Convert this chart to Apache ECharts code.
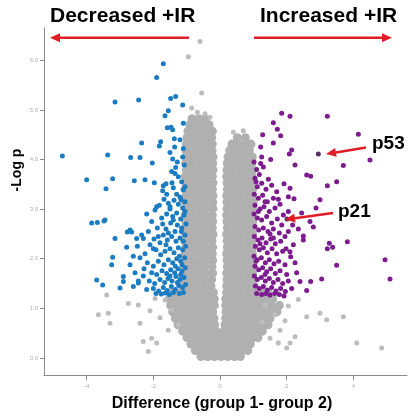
<!DOCTYPE html>
<html><head><meta charset="utf-8">
<script src="https://cdn.jsdelivr.net/npm/echarts@6/dist/echarts.min.js"></script>
<style>html,body{margin:0;padding:0;background:#fff}#c{width:408px;height:420px}</style>
</head><body><div id="c"></div>
<script>
const xTicks = [-4, -2, 0, 2, 4];
const yTicks = [0, 1, 2, 3, 4, 5, 6];
// gray (non-significant) core: each row = [y, x1, x2, ...]
const grayRows = [
[4.82,-0.84,-0.63,-0.44],
[4.70,-0.90,-0.71,-0.52,-0.33],
[4.57,-0.96,-0.77,-0.57,-0.37,-0.23],
[4.44,-0.99,-0.81,-0.61,-0.42,-0.25,0.52,0.76],
[4.31,-1.01,-0.79,-0.60,-0.41,-0.23,0.36,0.57,0.79,0.93],
[4.18,-1.02,-0.83,-0.63,-0.43,-0.24,0.29,0.48,0.69,0.88],
[4.05,-1.00,-0.81,-0.61,-0.40,-0.21,0.24,0.43,0.63,0.83,0.97],
[3.92,-1.03,-0.84,-0.62,-0.43,-0.22,0.22,0.40,0.61,0.80,0.95],
[3.79,-1.01,-0.80,-0.59,-0.40,-0.21,0.21,0.42,0.62,0.83,0.98],
[3.66,-1.04,-0.83,-0.64,-0.45,-0.23,0.20,0.39,0.60,0.79,0.96],
[3.53,-1.02,-0.82,-0.61,-0.42,-0.21,0.21,0.41,0.62,0.81,0.97],
[3.40,-1.05,-0.86,-0.65,-0.44,-0.23,0.22,0.43,0.61,0.82,0.98],
[3.27,-1.02,-0.81,-0.62,-0.41,-0.21,0.20,0.40,0.59,0.80,0.96],
[3.14,-1.04,-0.84,-0.63,-0.44,-0.22,0.21,0.41,0.62,0.81,0.99],
[3.01,-1.02,-0.82,-0.61,-0.42,-0.21,0.21,0.42,0.63,0.82,0.97],
[2.88,-1.05,-0.85,-0.64,-0.45,-0.23,0.20,0.40,0.60,0.80,0.96],
[2.75,-1.03,-0.83,-0.63,-0.42,-0.22,0.21,0.41,0.61,0.81,0.98],
[2.62,-1.05,-0.84,-0.65,-0.44,-0.23,0.22,0.42,0.62,0.82,0.97],
[2.49,-1.02,-0.82,-0.62,-0.41,-0.21,0.20,0.40,0.61,0.80,0.98],
[2.36,-1.06,-0.86,-0.66,-0.45,-0.24,0.21,0.41,0.60,0.81,0.96],
[2.23,-1.03,-0.83,-0.63,-0.43,-0.22,0.22,0.42,0.62,0.82,0.98],
[2.10,-1.05,-0.85,-0.64,-0.44,-0.23,0.20,0.40,0.60,0.80,0.97],
[1.97,-1.04,-0.84,-0.64,-0.43,-0.22,0.21,0.41,0.61,0.81,0.99],
[1.84,-1.06,-0.86,-0.66,-0.46,-0.24,0.22,0.42,0.62,0.82,1.00],
[1.71,-1.05,-0.85,-0.65,-0.44,-0.22,0.20,0.40,0.60,0.80,0.98],
[1.58,-1.08,-0.88,-0.67,-0.47,-0.25,0.21,0.41,0.61,0.81,1.00],
[1.45,-1.12,-0.91,-0.70,-0.49,-0.27,0.20,0.40,0.61,0.82,1.03],
[1.32,-1.38,-1.18,-0.98,-0.78,-0.58,-0.39,-0.20,0.20,0.41,0.61,0.82,1.02,1.23,1.44],
[1.19,-1.52,-1.31,-1.10,-0.90,-0.70,-0.50,-0.31,-0.17,0.17,0.36,0.56,0.76,0.96,1.16,1.36,1.58],
[1.06,-1.48,-1.27,-1.08,-0.88,-0.68,-0.48,-0.29,-0.17,0.17,0.31,0.51,0.71,0.91,1.11,1.31,1.54,1.78],
[0.93,-1.42,-1.21,-1.01,-0.81,-0.61,-0.41,-0.22,0.18,0.29,0.49,0.69,0.89,1.09,1.29,1.50,1.71],
[0.80,-1.34,-1.14,-0.94,-0.74,-0.54,-0.34,-0.18,0.17,0.31,0.51,0.71,0.91,1.11,1.31,1.50],
[0.67,-1.26,-1.06,-0.86,-0.66,-0.46,-0.26,-0.16,0.15,0.29,0.49,0.69,0.89,1.09,1.28,1.44],
[0.54,-1.12,-0.92,-0.72,-0.52,-0.32,-0.13,0.11,0.30,0.50,0.70,0.90,1.10,1.27],
[0.41,-0.99,-0.79,-0.59,-0.39,-0.19,0.00,0.19,0.39,0.59,0.79,0.99,1.14],
[0.28,-0.87,-0.67,-0.47,-0.27,-0.07,0.12,0.32,0.52,0.72,0.91],
[0.15,-0.74,-0.54,-0.34,-0.14,0.06,0.26,0.46,0.66,0.83],
[0.03,-0.57,-0.37,-0.17,0.03,0.23,0.43,0.61]
];
// scattered gray points
const grayScatter = [
[-0.60,6.38],[-0.95,6.07],[-0.55,5.34],[-0.85,5.04],[-0.68,4.95],[-0.45,4.92],[-0.30,4.85],[0.40,4.55],[0.70,4.58],
[-3.40,1.27],[-3.35,0.90],[-3.65,0.87],[-3.30,0.70],[-2.45,1.07],[-2.40,0.70],[-2.30,0.33],[-2.15,0.13],[-1.90,0.30],[-2.05,0.40],
[-1.65,1.17],[-1.45,0.97],[-1.80,0.81],[-1.25,0.67],[-1.55,0.56],[-2.10,0.95],[-1.95,1.20],[-2.75,1.10],
[2.60,0.83],[3.00,0.90],[3.20,0.77],[3.70,0.83],[4.10,0.30],[2.25,0.43],[2.10,0.30],[2.00,0.20],[1.75,0.30],[4.85,0.20],
[1.35,1.07],[1.65,0.87],[1.26,0.73],[1.80,0.56],[1.50,0.40],[2.05,1.05],[2.35,1.18],[1.95,0.75]
];
// significantly decreased (blue)
const decreased = [
[-1.70,5.93],[-1.90,5.65],[-3.15,5.16],[-2.44,5.20],[-1.48,5.23],[-1.33,5.27],[-1.12,5.10],[-1.55,4.98],[-1.65,4.88],
[-1.58,4.64],[-1.47,4.65],[-1.42,4.60],[-1.10,4.73],[-1.37,4.42],[-1.78,4.36],[-1.82,4.27],[-2.35,4.33],[-1.36,4.25],
[-1.50,4.14],[-1.10,4.22],[-3.37,4.09],[-2.68,4.04],[-2.40,4.04],[-2.03,3.93],[-1.42,4.01],[-1.33,3.84],[-1.07,3.89],
[-4.73,4.07],[-4.00,3.59],[-3.22,3.61],[-3.42,3.41],[-2.57,3.57],[-2.25,3.59],[-1.97,3.53],[-1.70,3.47],[-1.62,3.51],
[-1.72,3.37],[-1.44,3.53],[-1.40,3.43],[-1.20,3.24],[-1.17,3.19],[-1.10,3.39],[-1.45,3.76],[-1.35,3.72],[-1.90,3.05],
[-1.50,3.05],[-2.20,2.90],[-3.45,2.78],[-3.85,2.72],[-3.68,2.73],[-3.48,2.76],[-2.70,2.58],[-2.78,2.54],[-2.65,2.54],
[-3.15,2.41],[-2.50,2.41],[-2.30,2.41],[-2.80,2.23],[-3.22,2.03],[-3.25,1.88],[-2.70,1.88],[-3.70,1.57],[-3.52,1.47],
[-2.90,1.64],[-2.90,1.54],[-3.00,1.41],[-2.60,1.44],[-2.45,1.51],
[-1.05,3.15],[-1.12,3.02],[-1.25,3.10],[-1.38,3.18],[-1.55,3.12],[-1.68,3.20],[-1.82,3.08],[-1.95,2.98],[-1.08,2.88],
[-1.18,2.80],[-1.30,2.92],[-1.42,2.85],[-1.60,2.90],[-1.75,2.82],[-2.05,2.75],[-1.02,2.70],[-1.15,2.62],[-1.28,2.68],
[-1.35,2.55],[-1.48,2.72],[-1.62,2.60],[-1.88,2.62],[-2.15,2.55],[-2.35,2.48],[-1.05,2.48],[-1.20,2.42],[-1.32,2.35],
[-1.45,2.45],[-1.58,2.38],[-1.70,2.48],[-1.80,2.32],[-1.98,2.40],[-2.10,2.28],[-1.03,2.25],[-1.12,2.18],[-1.25,2.22],
[-1.38,2.12],[-1.50,2.20],[-1.65,2.15],[-1.78,2.08],[-1.92,2.18],[-2.25,2.10],[-2.40,2.02],[-1.06,2.02],[-1.18,1.95],
[-1.30,2.00],[-1.42,1.92],[-1.55,1.98],[-1.68,1.88],[-1.85,1.95],[-2.00,1.85],[-2.18,1.92],[-1.04,1.82],[-1.14,1.75],
[-1.26,1.80],[-1.36,1.72],[-1.48,1.78],[-1.60,1.70],[-1.74,1.76],[-1.90,1.68],[-2.05,1.72],[-2.30,1.65],[-1.08,1.62],
[-1.20,1.58],[-1.32,1.64],[-1.44,1.55],[-1.56,1.60],[-1.66,1.52],[-1.80,1.58],[-1.96,1.50],[-2.12,1.55],[-1.03,1.48],
[-1.12,1.42],[-1.24,1.46],[-1.34,1.38],[-1.46,1.44],[-1.58,1.36],[-1.70,1.42],[-1.84,1.35],[-2.00,1.40],[-2.20,1.38],
[-1.10,1.32],[-1.22,1.30],[-1.40,1.32],[-1.52,1.28],[-1.64,1.31],[-1.76,1.29],[-1.92,1.30],[-1.16,2.55],[-1.10,2.35],
[-1.22,2.05],[-1.14,1.88],[-1.28,1.52],[-1.40,2.78],[-1.55,2.52],[-1.72,2.70],[-1.05,2.95],[-1.50,3.00],[-1.85,2.45],
[-2.00,2.20],[-1.62,2.28],[-1.34,1.85],[-1.50,1.65],[-1.18,1.68],[-2.28,1.80],[-2.45,1.55],[-2.55,1.72],[-2.48,2.25],
[-2.60,2.05],[-1.15,3.55],[-1.25,3.65],[-1.05,3.45],[-1.30,3.30],[-1.60,3.30],[-1.12,4.05],[-1.20,4.40],[-1.28,3.95]
];
// significantly increased (purple)
const increased = [
[1.85,4.93],[2.10,4.87],[3.22,4.87],[1.60,4.74],[1.72,4.61],[1.82,4.48],[1.28,4.50],[1.60,4.33],[4.15,4.51],
[2.15,4.19],[2.08,4.11],[4.50,3.99],[1.25,4.05],[2.25,3.89],[3.70,3.88],[2.60,3.69],[2.72,3.66],[3.50,3.55],
[3.22,3.47],[1.92,3.51],[2.10,3.42],[2.22,3.21],[3.00,3.19],[2.88,3.02],[2.05,2.95],[2.45,2.92],[2.70,2.75],
[2.80,2.64],[2.05,2.55],[2.50,2.46],[2.50,2.38],[3.28,2.31],[3.38,2.23],[3.22,2.20],[3.82,2.34],[2.10,2.14],
[2.12,2.04],[3.50,1.87],[4.95,1.98],[5.10,1.59],[2.72,1.54],[3.05,1.59],[2.40,1.54],[2.60,1.36],
[1.02,3.95],[1.10,3.80],[1.05,3.62],[1.18,3.70],[1.30,3.85],[1.45,3.60],[1.12,3.45],[1.25,3.52],[1.38,3.40],
[1.55,3.48],[1.70,3.35],[1.03,3.30],[1.15,3.22],[1.28,3.28],[1.42,3.15],[1.60,3.22],[1.80,3.10],[1.05,3.08],
[1.20,3.00],[1.32,3.05],[1.48,2.95],[1.65,3.02],[1.90,2.88],[1.02,2.90],[1.12,2.82],[1.25,2.78],[1.40,2.85],
[1.55,2.72],[1.72,2.80],[1.85,2.68],[1.05,2.65],[1.16,2.58],[1.30,2.62],[1.44,2.55],[1.60,2.60],[1.78,2.52],
[1.95,2.45],[1.03,2.45],[1.14,2.38],[1.26,2.42],[1.38,2.32],[1.52,2.40],[1.66,2.30],[1.82,2.35],[2.20,2.28],
[1.06,2.25],[1.18,2.18],[1.30,2.22],[1.42,2.12],[1.56,2.20],[1.70,2.10],[1.88,2.15],[1.02,2.05],[1.12,1.98],
[1.24,2.02],[1.36,1.92],[1.48,1.98],[1.62,1.90],[1.76,1.95],[1.95,1.88],[2.25,1.92],[1.05,1.85],[1.16,1.78],
[1.28,1.82],[1.40,1.74],[1.52,1.80],[1.66,1.70],[1.80,1.76],[2.00,1.68],[2.30,1.72],[1.03,1.65],[1.12,1.58],
[1.24,1.62],[1.36,1.55],[1.48,1.60],[1.60,1.52],[1.74,1.58],[1.88,1.50],[2.05,1.55],[1.06,1.45],[1.18,1.40],
[1.30,1.44],[1.42,1.37],[1.55,1.42],[1.68,1.35],[1.82,1.40],[1.96,1.34],[2.15,1.40],[1.10,1.30],[1.25,1.28],
[1.38,1.30],[1.50,1.27],[1.64,1.30],[1.78,1.28],[1.92,1.25],[1.08,3.55],[1.22,3.92],[1.35,3.15],[1.15,2.95],
[1.50,2.50],[1.20,2.30],[1.08,1.95],[1.35,1.68],[1.60,2.42],[1.75,3.20],[2.05,3.25],[1.22,4.25],[1.52,4.00],
[2.35,2.60],[2.18,2.68],[1.98,2.20]
];
const p53 = [2.95, 4.11];
const p21 = [2.01, 2.80];

const grayCore = [];
grayRows.forEach(r => { for (let i = 1; i < r.length; i++) grayCore.push([r[i], r[0]]); });

const chart = echarts.init(document.getElementById('c'), null, {renderer: 'canvas'});
const FONT = '"Liberation Sans", Arial, Helvetica, sans-serif';
const RED = '#e01c24';

function arrow(x1, y1, x2, y2, len, half, w) {
  const dx = x2 - x1, dy = y2 - y1, L = Math.hypot(dx, dy);
  const ux = dx / L, uy = dy / L, nx = -uy, ny = ux;
  const bx = x2 - ux * len, by = y2 - uy * len;
  return [
    {type: 'line', shape: {x1: x1, y1: y1, x2: bx, y2: by}, style: {stroke: RED, lineWidth: w}, z: 100},
    {type: 'polygon', shape: {points: [[x2, y2], [bx + nx * half, by + ny * half], [bx - nx * half, by - ny * half]]}, style: {fill: RED}, z: 100}
  ];
}

const graphics = [
  {type: 'text', x: 50, y: 16.5, style: {text: 'Decreased +IR', font: 'bold 21px ' + FONT, fill: '#000', align: 'left', verticalAlign: 'middle'}},
  {type: 'text', x: 260, y: 16.5, style: {text: 'Increased +IR', font: 'bold 21px ' + FONT, fill: '#000', align: 'left', verticalAlign: 'middle'}},
  {type: 'text', x: 372, y: 143.5, style: {text: 'p53', font: 'bold 19px ' + FONT, fill: '#000', align: 'left', verticalAlign: 'middle'}, z: 100},
  {type: 'text', x: 338, y: 211.5, style: {text: 'p21', font: 'bold 19px ' + FONT, fill: '#000', align: 'left', verticalAlign: 'middle'}, z: 100},
  {type: 'text', x: 17, y: 170, rotation: Math.PI / 2, style: {text: '-Log p', font: 'bold 14px ' + FONT, fill: '#000', align: 'center', verticalAlign: 'middle'}},
  {type: 'text', x: 222, y: 404, style: {text: 'Difference (group 1- group 2)', font: 'bold 16px ' + FONT, fill: '#000', align: 'center', verticalAlign: 'middle'}}
].concat(arrow(189, 37.7, 50, 37.7, 10, 4.5, 2.5))
 .concat(arrow(254, 37.7, 392, 37.7, 10, 4.5, 2.5))
 .concat(arrow(366, 147.5, 326, 154, 10, 4.5, 2.5))
 .concat(arrow(333, 213, 285, 219.5, 10, 4.5, 2.5));

chart.setOption({
  animation: false,
  backgroundColor: '#fff',
  grid: {left: 44, right: 1, top: 28, bottom: 45, containLabel: false, outerBoundsMode: 'none'},
  xAxis: {
    type: 'value', min: -5.28, max: 5.61,
    axisLine: {show: true, onZero: false, lineStyle: {color: '#8a8a8a', width: 1}},
    axisTick: {show: true, length: 5, customValues: xTicks, lineStyle: {color: '#8a8a8a'}},
    axisLabel: {customValues: xTicks, fontSize: 6, color: '#b0b0b0', margin: 8, fontFamily: FONT},
    splitLine: {show: false}
  },
  yAxis: {
    type: 'value', min: -0.343, max: 6.65,
    axisLine: {show: true, onZero: false, lineStyle: {color: '#8a8a8a', width: 1}},
    axisTick: {show: true, length: 4, customValues: yTicks, lineStyle: {color: '#8a8a8a'}},
    axisLabel: {customValues: yTicks, fontSize: 6, color: '#b0b0b0', margin: 6, fontFamily: FONT, formatter: v => v.toFixed(1)},
    splitLine: {show: false}
  },
  series: [
    {type: 'scatter', data: grayCore, symbolSize: 9, itemStyle: {color: '#b0b0b0', opacity: 1}, silent: true},
    {type: 'scatter', data: grayScatter, symbolSize: 5, itemStyle: {color: '#bdbdbd', opacity: 1}, silent: true},
    {type: 'scatter', data: decreased, symbolSize: 5, itemStyle: {color: '#1b7cc2', opacity: 1}, silent: true},
    {type: 'scatter', data: increased, symbolSize: 5, itemStyle: {color: '#7c1c8e', opacity: 1}, silent: true},
    {type: 'scatter', data: [p53, p21], symbolSize: 5, itemStyle: {color: '#5a2c66', opacity: 1}, silent: true}
  ],
  graphic: graphics
});
</script>
</body></html>
